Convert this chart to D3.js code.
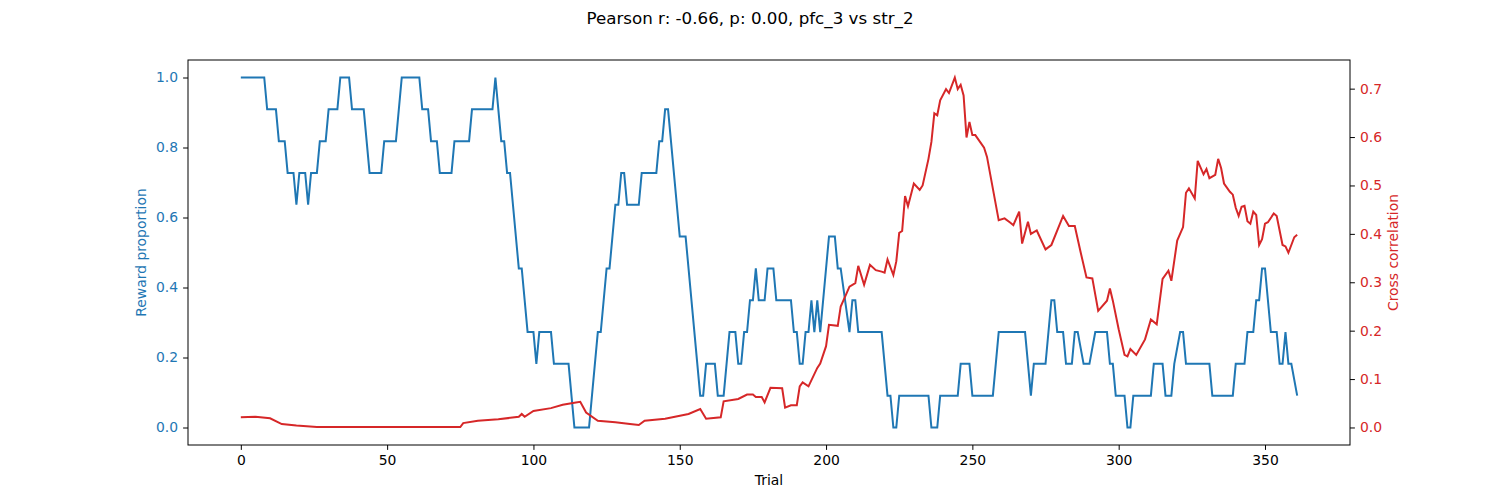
<!DOCTYPE html>
<html>
<head>
<meta charset="utf-8">
<script src="https://cdn.jsdelivr.net/npm/d3@7"></script>
<style>
body { margin: 0; background: #fff; }
text { font-family: "DejaVu Sans", sans-serif; }
</style>
</head>
<body>
<div class="chart"></div>
<script>
// reward proportion, [trial, value] breakpoints (k/11 levels)
let rewardTrials = [0,8,9,12,13,15,16,18,19,20,22,23,24,26,27,29,30,33,34,37,38,42,44,48,49,53,55,61,62,64,65,67,68,72,73,78,79,86,87,88,89,90,91,92,95,96,98,100,101,102,106,107,112,114,119,122,123,125,126,128,129,130,131,132,136,137,142,143,144,145,146,150,152,157,158,159,162,163,165,167,169,170,171,172,173,174,175,176,177,179,180,182,183,188,189,190,191,192,193,194,195,196,197,198,201,203,204,205,208,209,210,211,219,221,222,223,224,225,235,236,238,239,245,246,249,250,257,259,268,270,271,275,277,278,279,281,282,284,285,286,288,290,292,296,297,298,299,302,303,304,305,311,312,315,316,318,319,321,322,323,331,332,339,340,343,344,346,347,348,349,350,352,354,355,356,357,358,359,361];
let rewardLevels = [11,11,10,10,9,9,8,8,7,8,8,7,8,8,9,9,10,10,11,11,10,10,8,8,9,9,11,11,10,10,9,9,8,8,9,9,10,10,11,10,9,9,8,8,5,5,3,3,2,3,3,2,2,0,0,3,3,5,5,7,7,8,8,7,7,8,8,9,9,10,10,6,6,1,1,2,2,1,1,3,3,2,2,3,3,4,4,5,4,4,5,5,4,4,3,3,2,2,3,3,4,3,4,3,6,6,5,5,3,4,4,3,3,1,1,0,0,1,1,0,0,1,1,2,2,1,1,3,3,1,2,2,4,4,3,3,2,2,3,3,2,2,3,3,2,2,1,1,0,0,1,1,2,2,1,1,2,3,3,2,2,1,1,2,2,3,3,4,4,5,5,3,3,2,2,3,2,2,1,1];

// cross correlation, read at selected trials
let corrTrials = [0,5,10,14,19,26,42,75,76,81,88,95,96,97,100,106,110,114,116,118,122,128,133,136,138,145,153,157,159,164,165,170,173,175,176,178,179,181,185,186,188,190,191,192,194,197,198,200,201,204,205,207,208,210,211,213,215,217,219,220,221,223,224,225,226,227,228,230,232,233,235,236,237,238,239,241,242,244,245,246,247,248,249,250,251,254,255,259,261,263,264,266,267,269,270,272,275,277,281,283,285,287,289,291,293,296,297,298,300,302,303,304,306,309,311,313,315,317,318,320,322,323,324,326,327,329,330,331,333,334,335,336,338,339,340,341,342,343,344,345,346,347,348,349,350,351,353,354,356,357,358,360,361];
let corrValues = [0.021,0.022,0.019,0.007,0.004,0.001,0.001,0.001,0.009,0.014,0.017,0.022,0.028,0.022,0.034,0.040,0.047,0.051,0.053,0.031,0.014,0.011,0.007,0.005,0.014,0.018,0.028,0.038,0.018,0.021,0.054,0.059,0.068,0.068,0.063,0.063,0.052,0.082,0.081,0.041,0.046,0.046,0.085,0.093,0.085,0.123,0.132,0.168,0.212,0.210,0.250,0.277,0.291,0.298,0.334,0.295,0.336,0.325,0.322,0.320,0.347,0.315,0.343,0.402,0.406,0.478,0.457,0.504,0.491,0.500,0.555,0.590,0.649,0.645,0.676,0.699,0.691,0.723,0.699,0.708,0.686,0.599,0.631,0.604,0.604,0.578,0.559,0.428,0.432,0.423,0.418,0.446,0.380,0.425,0.400,0.407,0.368,0.377,0.437,0.416,0.416,0.362,0.310,0.308,0.241,0.262,0.287,0.262,0.203,0.150,0.147,0.162,0.150,0.182,0.223,0.213,0.307,0.324,0.303,0.386,0.414,0.485,0.494,0.473,0.551,0.523,0.534,0.515,0.522,0.555,0.536,0.504,0.487,0.481,0.454,0.437,0.456,0.458,0.426,0.421,0.446,0.439,0.377,0.389,0.421,0.424,0.442,0.437,0.377,0.374,0.361,0.393,0.398];

let xTicks = [0,50,100,150,200,250,300,350];
let leftTicks = [0.0,0.2,0.4,0.6,0.8,1.0];
let rightTicks = [0.0,0.1,0.2,0.3,0.4,0.5,0.6,0.7];

let width = 1500, height = 500;
let margin = {left: 188, right: 150, top: 60, bottom: 55};
let blue = '#1f77b4', red = '#d62728';

let svg = d3.select('.chart').append('svg').attr('width', width).attr('height', height);

let x = d3.scaleLinear().domain([-18.05, 379.05]).range([margin.left, width - margin.right]);
let yL = d3.scaleLinear().domain([-0.05, 1.05]).range([height - margin.bottom, margin.top]);
let yR = d3.scaleLinear().domain([-0.0362, 0.7592]).range([height - margin.bottom, margin.top]);

let reward = rewardTrials.map((t, i) => [t, rewardLevels[i] / 11]);
let corr = corrTrials.map((t, i) => [t, corrValues[i]]);

svg.append('path').datum(reward)
    .attr('d', d3.line().x(d => x(d[0])).y(d => yL(d[1])))
    .attr('fill', 'none').attr('stroke', blue).attr('stroke-width', 2);
svg.append('path').datum(corr)
    .attr('d', d3.line().x(d => x(d[0])).y(d => yR(d[1])))
    .attr('fill', 'none').attr('stroke', red).attr('stroke-width', 2);

let fmt = d3.format('.1f');
let styleAxis = function(g, color) {
    g.select('.domain').remove();
    g.selectAll('.tick line').attr('stroke', '#000');
    g.selectAll('.tick text').attr('fill', color).style('font-size', '13.9px')
        .style('font-family', '"DejaVu Sans", sans-serif');
};

svg.append('g').attr('transform', `translate(0,${height - margin.bottom})`)
    .call(d3.axisBottom(x).tickValues(xTicks).tickSize(4.9).tickPadding(5))
    .call(g => styleAxis(g, '#000'));
svg.append('g').attr('transform', `translate(${margin.left},0)`)
    .call(d3.axisLeft(yL).tickValues(leftTicks).tickFormat(fmt).tickSize(4.9).tickPadding(5))
    .call(g => styleAxis(g, blue));
svg.append('g').attr('transform', `translate(${width - margin.right},0)`)
    .call(d3.axisRight(yR).tickValues(rightTicks).tickFormat(fmt).tickSize(4.9).tickPadding(5))
    .call(g => styleAxis(g, red));

svg.append('rect')
    .attr('x', margin.left).attr('y', margin.top)
    .attr('width', width - margin.left - margin.right)
    .attr('height', height - margin.top - margin.bottom)
    .attr('fill', 'none').attr('stroke', '#000').attr('stroke-width', 1);

svg.append('text').attr('x', (margin.left + width - margin.right) / 2).attr('y', 485)
    .attr('text-anchor', 'middle').style('font-size', '13.9px').text('Trial');
svg.append('text').attr('transform', `translate(146,${(margin.top + height - margin.bottom) / 2}) rotate(-90)`)
    .attr('text-anchor', 'middle').attr('fill', blue).style('font-size', '13.9px').text('Reward proportion');
svg.append('text').attr('transform', `translate(1398,${(margin.top + height - margin.bottom) / 2}) rotate(-90)`)
    .attr('text-anchor', 'middle').attr('fill', red).style('font-size', '13.9px').text('Cross correlation');
svg.append('text').attr('x', 750).attr('y', 24)
    .attr('text-anchor', 'middle').style('font-size', '16.7px').text('Pearson r: -0.66, p: 0.00, pfc_3 vs str_2');
</script>
</body>
</html>
